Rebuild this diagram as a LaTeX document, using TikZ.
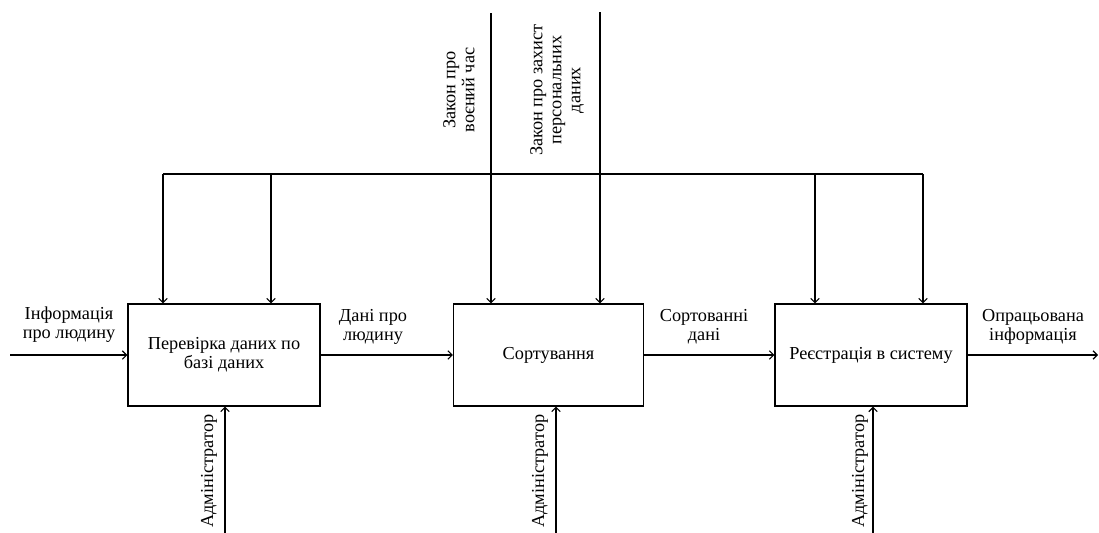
\documentclass[tikz,border=0pt]{standalone}
\usepackage{fontspec}
\setmainfont{Liberation Serif}
\usetikzlibrary{arrows.meta}
\begin{document}
\begin{tikzpicture}[x=0.025cm,y=-0.025cm,
  font=\fontsize{13}{13.5}\selectfont,
  line width=0.8pt,
  arr/.style={-{Straight Barb[length=3pt,width=6pt,line width=0.8pt]}},
  proc/.style={draw, line width=0.9pt, minimum height=2.55cm, align=center, inner sep=2pt},
  lbl/.style={align=center, inner sep=0pt},
  vlbl/.style={align=center, inner sep=0pt, rotate=90}]
\useasboundingbox (0,0) rectangle (1099,533);

% process blocks
\node[proc, minimum width=4.8cm]  (b1) at (224,355) {Перевірка даних по\\базі даних};
\node[proc, minimum width=4.75cm] (b2) at (548.5,355) {Сортування};
\node[proc, minimum width=4.8cm]  (b3) at (871,355) {Реєстрація в систему};

% inputs and outputs
\coordinate (in)  at (10,355);
\coordinate (out) at (1098,355);
\draw[arr] (in) -- (b1.west);
\draw[arr] (b1.east) -- (b2.west);
\draw[arr] (b2.east) -- (b3.west);
\draw[arr] (b3.east) -- (out);

\node[lbl] (lin)  at (69,325)   {Інформація\\про людину};
\node[lbl] (l12)  at (373,327)  {Дані про\\людину};
\node[lbl] (l23)  at (704,327)  {Сортованні\\дані};
\node[lbl] (lout) at (1033,327) {Опрацьована\\інформація};

% controls: two laws feeding a common bus
\coordinate (t1) at (491,13);
\coordinate (t2) at (600,12);
\coordinate (busL) at (163,174);
\coordinate (busR) at (923,174);
\draw (busL) -- (busR);
\draw (t1) -- (t1 |- busL);
\draw (t2) -- (t2 |- busL);

\node[vlbl] (law1) at (459,90) {Закон про\\воєний час};
\node[vlbl] (law2) at (557,90) {Закон про захист\\персональних\\даних};

% drops from the bus to each block
\coordinate (d1) at (163,174);
\coordinate (d2) at (271,174);
\coordinate (d3) at (491,174);
\coordinate (d4) at (600,174);
\coordinate (d5) at (815,174);
\coordinate (d6) at (923,174);
\draw[arr] (d1) -- (d1 |- b1.north);
\draw[arr] (d2) -- (d2 |- b1.north);
\draw[arr] (d3) -- (d3 |- b2.north);
\draw[arr] (d4) -- (d4 |- b2.north);
\draw[arr] (d5) -- (d5 |- b3.north);
\draw[arr] (d6) -- (d6 |- b3.north);

% mechanisms
\coordinate (m1) at (225,533);
\coordinate (m2) at (556,533);
\coordinate (m3) at (873,533);
\draw[arr] (m1) -- (m1 |- b1.south);
\draw[arr] (m2) -- (m2 |- b2.south);
\draw[arr] (m3) -- (m3 |- b3.south);

\node[vlbl] (a1) at (209,471) {Адміністратор};
\node[vlbl] (a2) at (540,471) {Адміністратор};
\node[vlbl] (a3) at (860,471) {Адміністратор};
\end{tikzpicture}
\end{document}
